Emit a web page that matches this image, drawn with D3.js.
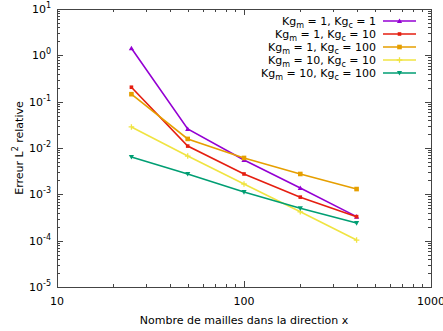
<!DOCTYPE html>
<html><head><meta charset="utf-8">
<script src="https://cdn.jsdelivr.net/npm/d3@7"></script>
<style>body{margin:0;background:#fff}svg{display:block;font-family:"DejaVu Sans",sans-serif}</style>
</head><body><svg id="c" width="443" height="331"></svg>
<script>
const meshes = [25, 50, 100, 200, 400];
const seriesNames = [
  ["1","1"], ["1","10"], ["1","100"], ["10","10"], ["10","100"]
];
const errA = [1.42, 0.0257, 0.0055, 0.00137, 0.00033];
const errB = [0.205, 0.011, 0.00275, 0.00087, 0.00033];
const errC = [0.145, 0.0157, 0.0061, 0.00275, 0.0013];
const errD = [0.0285, 0.0067, 0.00167, 0.00042, 0.000103];
const errE = [0.0064, 0.00275, 0.00112, 0.0005, 0.00024];
const colors = ["#9400d3", "#e51e10", "#e69f00", "#f0e442", "#009e73"];
const markers = ["triUp", "smallSquare", "square", "plus", "triDown"];
const xTicks = [10, 100, 1000];
const yTicks = [1e-5, 1e-4, 1e-3, 1e-2, 1e-1, 1, 10];
const xLabel = "Nombre de mailles dans la direction x";

const allErr = [errA, errB, errC, errD, errE];
const svg = d3.select("#c");
const L = 57, R = 431, T = 9, B = 287;
const x = d3.scaleLog().domain([10, 1000]).range([L, R]);
const y = d3.scaleLog().domain([1e-5, 10]).range([B, T]);
const axisCol = "#444";

// minor ticks
const minorX = [], minorY = [];
for (let d = 10; d < 1000; d *= 10) for (let k = 2; k <= 9; k++) minorX.push(d * k);
for (let d = 1e-5; d < 9; d *= 10) for (let k = 2; k <= 9; k++) minorY.push(d * k);

const g = svg.append("g");
function tickLines(vals, scale, horiz, len) {
  vals.forEach(v => {
    const p = Math.round(scale(v)) + 0.5;
    if (horiz) {
      g.append("line").attr("x1", p).attr("x2", p).attr("y1", B).attr("y2", B - len).attr("stroke", axisCol);
      g.append("line").attr("x1", p).attr("x2", p).attr("y1", T).attr("y2", T + len).attr("stroke", axisCol);
    } else {
      g.append("line").attr("y1", p).attr("y2", p).attr("x1", L).attr("x2", L + len).attr("stroke", axisCol);
      g.append("line").attr("y1", p).attr("y2", p).attr("x1", R).attr("x2", R - len).attr("stroke", axisCol);
    }
  });
}
tickLines(minorX, x, true, 3);
tickLines(xTicks, x, true, 6);
tickLines(minorY, y, false, 3);
tickLines(yTicks, y, false, 6);
g.append("rect").attr("x", L + 0.5).attr("y", T + 0.5).attr("width", R - L).attr("height", B - T)
  .attr("fill", "none").attr("stroke", axisCol);

// tick labels
xTicks.forEach(v => {
  svg.append("text").attr("x", x(v)).attr("y", 305).attr("text-anchor", "middle")
    .attr("font-size", 11).attr("fill", "#000").text(v);
});
yTicks.forEach(v => {
  const e = Math.round(Math.log10(v));
  const t = svg.append("text").attr("x", 51).attr("y", y(v) + 4).attr("text-anchor", "end")
    .attr("font-size", 11).attr("fill", "#000");
  t.append("tspan").text("10");
  t.append("tspan").attr("dy", -5).attr("font-size", 8).text(e);
});

// axis titles
svg.append("text").attr("x", 244).attr("y", 324).attr("text-anchor", "middle")
  .attr("font-size", 11).text(xLabel);
const yl = svg.append("text").attr("transform", "translate(23,148) rotate(-90)")
  .attr("text-anchor", "middle").attr("font-size", 11);
yl.append("tspan").text("Erreur L");
yl.append("tspan").attr("dy", -5).attr("font-size", 8).text("2");
yl.append("tspan").attr("dy", 5).text(" relative");

function marker(sel, type, cx, cy, col) {
  const s = 2.6;
  if (type === "triUp") sel.append("path").attr("d", `M${cx},${cy - s}L${cx + s},${cy + s * 0.8}L${cx - s},${cy + s * 0.8}Z`).attr("fill", col);
  else if (type === "triDown") sel.append("path").attr("d", `M${cx},${cy + s}L${cx + s},${cy - s * 0.8}L${cx - s},${cy - s * 0.8}Z`).attr("fill", col);
  else if (type === "square") sel.append("rect").attr("x", cx - 2.3).attr("y", cy - 2.3).attr("width", 4.6).attr("height", 4.6).attr("fill", col);
  else if (type === "smallSquare") sel.append("rect").attr("x", cx - 1.8).attr("y", cy - 1.8).attr("width", 3.6).attr("height", 3.6).attr("fill", col);
  else if (type === "plus") {
    sel.append("path").attr("d", `M${cx - 2.8},${cy}H${cx + 2.8}M${cx},${cy - 2.8}V${cy + 2.8}`).attr("stroke", col).attr("stroke-width", 1.3);
  }
}

const line = d3.line().x(d => x(d[0])).y(d => y(d[1]));
allErr.forEach((errs, i) => {
  const pts = meshes.map((m, j) => [m, errs[j]]);
  const sg = svg.append("g");
  sg.append("path").attr("d", line(pts)).attr("fill", "none").attr("stroke", colors[i]).attr("stroke-width", 1.6);
  pts.forEach(p => marker(sg, markers[i], x(p[0]), y(p[1]), colors[i]));
});

// legend
seriesNames.forEach((n, i) => {
  const ly = 21 + i * 13;
  const t = svg.append("text").attr("x", 376).attr("y", ly + 4).attr("text-anchor", "end").attr("font-size", 11);
  t.append("tspan").text("Kg");
  t.append("tspan").attr("dy", 2.5).attr("font-size", 8).text("m");
  t.append("tspan").attr("dy", -2.5).text(" = " + n[0] + ", Kg");
  t.append("tspan").attr("dy", 2.5).attr("font-size", 8).text("c");
  t.append("tspan").attr("dy", -2.5).text(" = " + n[1]);
  svg.append("line").attr("x1", 383).attr("x2", 416).attr("y1", ly).attr("y2", ly)
    .attr("stroke", colors[i]).attr("stroke-width", 1.6);
  marker(svg, markers[i], 399.5, ly, colors[i]);
});
</script></body></html>
